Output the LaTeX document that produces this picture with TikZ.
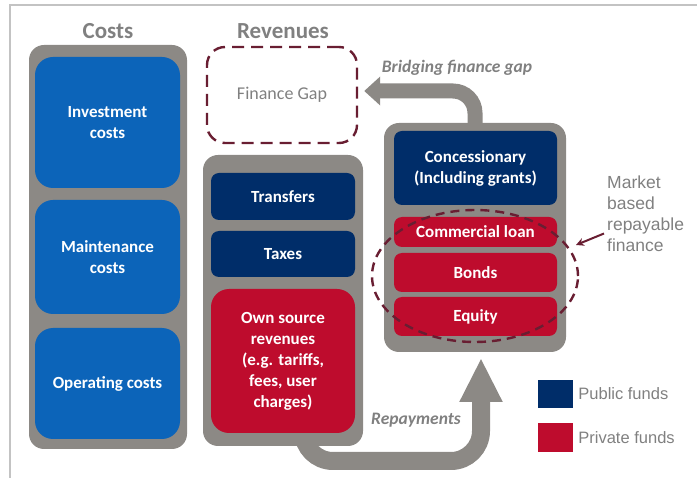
\documentclass[tikz,border=0pt]{standalone}
\usepackage{fontspec}
\setmainfont{Carlito}
\newfontfamily\arialfont{Liberation Sans}
\usetikzlibrary{arrows.meta,shapes.geometric,positioning}
\definecolor{costblue}{RGB}{12,100,185}
\definecolor{pubblue}{RGB}{0,45,105}
\definecolor{privred}{RGB}{190,12,45}
\definecolor{panelgray}{RGB}{140,137,133}
\definecolor{gapred}{RGB}{105,30,50}
\definecolor{titlegray}{RGB}{128,128,128}
\definecolor{framegray}{RGB}{195,195,195}
\begin{document}
\begin{tikzpicture}[x=1pt,y=-1pt,every node/.style={inner sep=0pt,align=center},
    panel/.style={fill=panelgray,rounded corners=15pt},
    box/.style={text=white,font=\bfseries\fontsize{17}{21}\selectfont},
    costbox/.style={box,fill=costblue,rounded corners=18pt,minimum width=145pt},
    pubbox/.style={box,fill=pubblue,rounded corners=8pt},
    privbox/.style={box,fill=privred,rounded corners=8pt},
    title/.style={text=titlegray,font=\bfseries\fontsize{23}{28}\selectfont},
    flow/.style={draw=panelgray,line width=15pt,rounded corners=22pt},
    gapline/.style={draw=gapred,line width=2.4pt},
    note/.style={text=titlegray,font=\bfseries\itshape\fontsize{17.5}{21}\selectfont},
    legend/.style={text=titlegray,font=\arialfont\fontsize{16.5}{21}\selectfont}]
    \useasboundingbox (0,0) rectangle (697,478);
    \draw[framegray,line width=2pt] (10,478) -- (10,5) -- (697,5);
    % titles
    \node[title] (costs) at (108,31) {Costs};
    \node[title] (revs) at (283,31) {Revenues};
    % finance gap
    \node[gapline,dash pattern=on 12pt off 7pt,rounded corners=18pt,minimum width=150pt,minimum height=96pt,text=titlegray,font=\fontsize{18}{22}\selectfont] (gap) at (282,95) {Finance Gap};
    % flows (behind the panels)
    \coordinate (rpturn) at (481,461);
    \draw[flow,-{Triangle[width=28pt,length=16pt]}] (475,130) |- ([xshift=6pt,yshift=4pt]gap.east);
    \draw[flow,line width=18pt,rounded corners=30pt,-{Triangle[width=40pt,length=44pt]}] (303,416) |- (rpturn) -- (481,358);
    % panels
    \node[panel,minimum width=158pt,minimum height=404pt] (costp) at (108,247) {};
    \node[panel,minimum width=160pt,minimum height=291pt] (rev) at (283,300.5) {};
    \node[panel,minimum width=182pt,minimum height=229pt] (fin) at (475,237.5) {};
    % costs
    \foreach \n/\y/\h/\t in {inv/122.5/131/Investment\\costs,main/257/114/Maintenance\\costs,oper/383.5/111/Operating costs}
        \node[costbox,minimum height=\h pt] (\n) at (107.5,\y) {\t};
    % revenues
    \node[pubbox,minimum width=144pt,minimum height=47pt] (trans) at (283,196.5) {Transfers};
    \node[pubbox,minimum width=144pt,minimum height=46pt] (tax) at (283,254) {Taxes};
    \node[privbox,rounded corners=18pt,minimum width=144pt,minimum height=144pt] (own) at (283,361) {Own source\\revenues\\(e.g. tariffs,\\fees, user\\charges)};
    % finance
    \node[pubbox,minimum width=163pt,minimum height=74pt] (conc) at (475.5,168) {Concessionary\\(Including grants)};
    \foreach \n/\y/\h/\t in {loan/232/30/Commercial loan,bond/272.5/39/Bonds,eq/316.5/39/Equity}
        \node[privbox,minimum width=163pt,minimum height=\h pt] (\n) at (475.5,\y) {\t};
    \node[gapline,ellipse,dash pattern=on 9pt off 6pt,minimum width=206pt,minimum height=132pt] (mb) at (475,276) {};
    % labels
    \node[note] (bridge) at (457,68) {Bridging finance gap};
    \node[note] (repay) at (416,420) {Repayments};
    \node[legend,align=left,anchor=west,font=\arialfont\fontsize{17.5}{21}\selectfont] (mkt) at (607,213.5) {Market\\based\\repayable\\finance};
    \coordinate (mktip) at (576,245);
    \draw[draw=gapred,line width=2pt,-{Stealth[length=8pt,width=8pt]}] ([xshift=-3pt,yshift=-20pt]mkt.west) -- (mktip);
    % legend
    \node[fill=pubblue,minimum width=35pt,minimum height=28pt] (pubkey) at (555.5,394) {};
    \node[fill=privred,minimum width=35pt,minimum height=29pt] (privkey) at (555.5,437.5) {};
    \node[legend,right=5pt of pubkey] (publab) {Public funds};
    \node[legend,right=5pt of privkey] (privlab) {Private funds};
\end{tikzpicture}
\end{document}
